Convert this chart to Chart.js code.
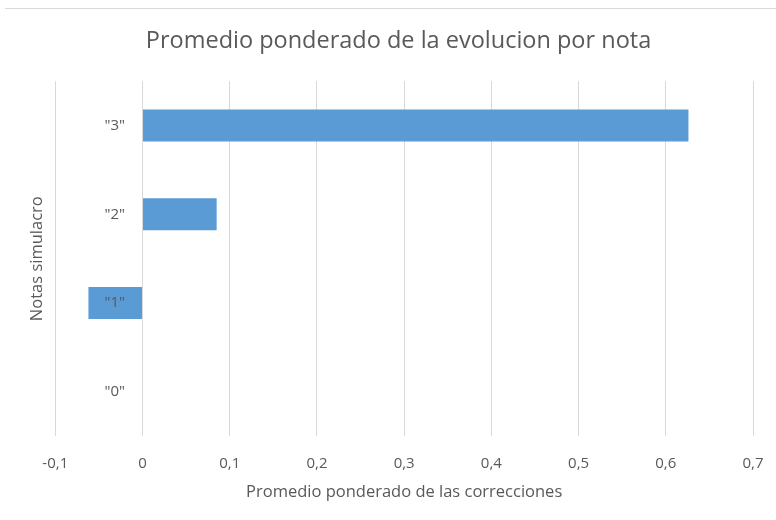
<!DOCTYPE html>
<html>
<head>
<meta charset="utf-8">
<script src="https://cdn.jsdelivr.net/npm/chart.js@4"></script>
<style>
    html, body { margin: 0; padding: 0; background: #fff; }
    #wrap { position: relative; width: 776px; height: 520px; }
    #topline { position: absolute; left: 5px; right: 0; top: 8px; height: 1px; background: #d9d9d9; }
</style>
</head>
<body>
<div id="wrap">
    <canvas id="notasChart" width="776" height="520"></canvas>
    <div id="topline"></div>
</div>
<script>
const categories = ['"0"', '"1"', '"2"', '"3"'];
const promedios = [0, -0.062, 0.085, 0.626];
const xTicks = [-0.1, 0, 0.1, 0.2, 0.3, 0.4, 0.5, 0.6, 0.7];

const textColor = '#595959';
const fontFamily = "'Open Sans', 'Noto Sans', sans-serif";

const ctx = document.getElementById('notasChart').getContext('2d');

const notasChart = new Chart(ctx, {
    type: 'bar',
    data: {
        labels: categories,
        datasets: [{
            label: 'Promedio ponderado',
            data: promedios,
            backgroundColor: '#5b9bd5',
            borderWidth: 0,
            categoryPercentage: 1,
            barPercentage: 0.36,
        }],
    },
    options: {
        indexAxis: 'y',
        responsive: false,
        animation: false,
        layout: { padding: { left: 44, right: 23, top: 0, bottom: 18 } },
        plugins: {
            legend: { display: false },
            tooltip: { enabled: false },
            title: {
                display: true,
                text: 'Promedio ponderado de la evolucion por nota',
                color: textColor,
                font: { family: fontFamily, size: 23.5, weight: 'normal' },
                padding: { top: 27, bottom: 26 },
            },
        },
        scales: {
            x: {
                min: -0.1,
                max: 0.7,
                afterBuildTicks: (scale) => {
                    scale.ticks = xTicks.map(v => ({ value: v }));
                },
                grid: { color: '#d9d9d9', tickLength: 17, tickColor: 'rgba(0,0,0,0)' },
                border: { display: false },
                ticks: {
                    color: textColor,
                    padding: 2,
                    font: { family: fontFamily, size: 15 },
                    callback: (v) => (Math.round(v * 10) / 10).toString().replace('.', ','),
                },
                title: {
                    display: true,
                    text: 'Promedio ponderado de las correcciones',
                    color: textColor,
                    font: { family: fontFamily, size: 16.5 },
                    padding: { top: 7, bottom: 0 },
                },
            },
            // labels sit just left of the zero line, like in the Excel chart
            y: {
                position: { x: -0.02 },
                reverse: true,
                grid: { display: false, drawTicks: false },
                border: { display: false },
                ticks: {
                    z: 1,
                    color: textColor,
                    font: { family: fontFamily, size: 15 },
                },
            },
            // left axis only carries the title
            y2: {
                axis: 'y',
                type: 'category',
                labels: categories,
                position: 'left',
                reverse: true,
                grid: { display: false, drawTicks: false },
                border: { display: false },
                ticks: { display: false },
                title: {
                    display: true,
                    text: 'Notas simulacro',
                    color: textColor,
                    font: { family: fontFamily, size: 16.5 },
                    padding: { top: -17, bottom: 8.5 },
                },
            },
        },
    },
});
</script>
</body>
</html>
